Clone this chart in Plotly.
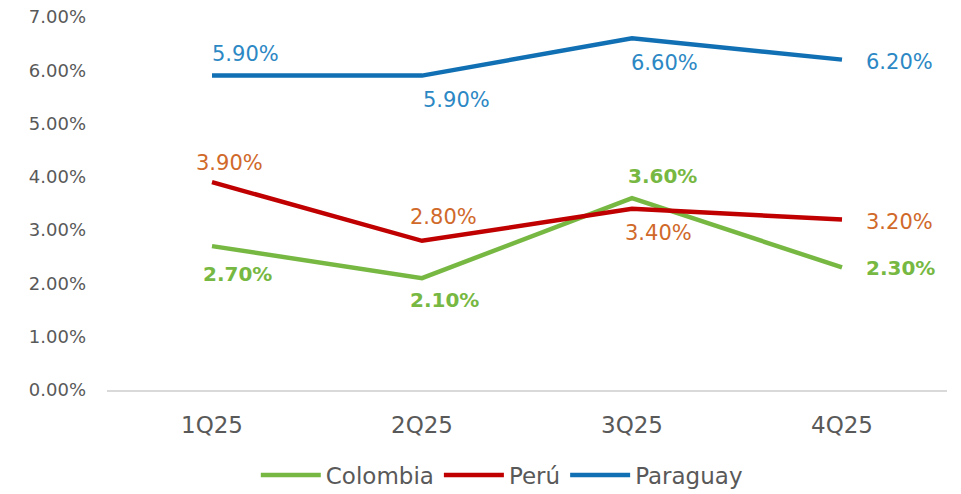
import plotly.graph_objects as go

quarters = ["1Q25", "2Q25", "3Q25", "4Q25"]
colombia = [2.7, 2.1, 3.6, 2.3]
peru = [3.9, 2.8, 3.4, 3.2]
paraguay = [5.9, 5.9, 6.6, 6.2]
y_ticks = [0, 1, 2, 3, 4, 5, 6, 7]

FONT = "DejaVu Sans, Verdana, sans-serif"

series = [
    dict(name="Colombia", vals=colombia, line="#77B843", label="#77B843", bold=True,
         shifts=[(25, -28), (22, -22), (30, 22), (58, -1)]),
    dict(name="Perú", vals=peru, line="#C00000", label="#D0692A", bold=False,
         shifts=[(17, 19), (21, 24), (26, -24), (57, -3)]),
    dict(name="Paraguay", vals=paraguay, line="#1170B4", label="#2C88C4", bold=False,
         shifts=[(33, 22), (34, -24), (32, -25), (57, -2)]),
]

fig = go.Figure()
annotations = []
for s in series:
    fig.add_trace(go.Scatter(
        x=quarters, y=s["vals"], name=s["name"], mode="lines",
        line=dict(color=s["line"], width=4.5), hoverinfo="x+y",
    ))
    for q, v, (dx, dy) in zip(quarters, s["vals"], s["shifts"]):
        t = f"{v:.2f}%"
        if s["bold"]:
            t = "<b>" + t + "</b>"
        annotations.append(dict(
            x=q, y=v, xref="x", yref="y", text=t, showarrow=False,
            xshift=dx, yshift=dy, xanchor="center", yanchor="middle",
            font=dict(family=FONT, size=20 if s["bold"] else 21, color=s["label"]),
        ))

# page body adds an 8px margin at top/left; figure sized to end at the window edge
fig.update_layout(
    width=953, height=486,
    margin=dict(l=99, r=14, t=9, b=104, autoexpand=False),
    plot_bgcolor="white", paper_bgcolor="white",
    font=dict(family=FONT, color="#595959", size=18),
    annotations=annotations,
    showlegend=True,
    legend=dict(orientation="h", x=0.47, xanchor="center", y=-0.228, yanchor="middle",
                font=dict(size=23, color="#595959", family=FONT),
                itemwidth=60, tracegroupgap=0),
    xaxis=dict(showgrid=False, showline=True, linecolor="#D9D9D9", linewidth=1.5,
               tickfont=dict(size=23, color="#595959"), ticks="",
               ticklabelstandoff=14, automargin=False,
               range=[-0.5, 3.5]),
    yaxis=dict(range=[0, 7], tickvals=y_ticks, ticktext=[f"{v:.2f}%" for v in y_ticks],
               showgrid=False, zeroline=False, showline=False,
               tickfont=dict(size=18, color="#595959"), ticks="",
               ticklabelstandoff=20, automargin=False, ticklabeloverflow="allow"),
)
fig.write_html("out.html")
